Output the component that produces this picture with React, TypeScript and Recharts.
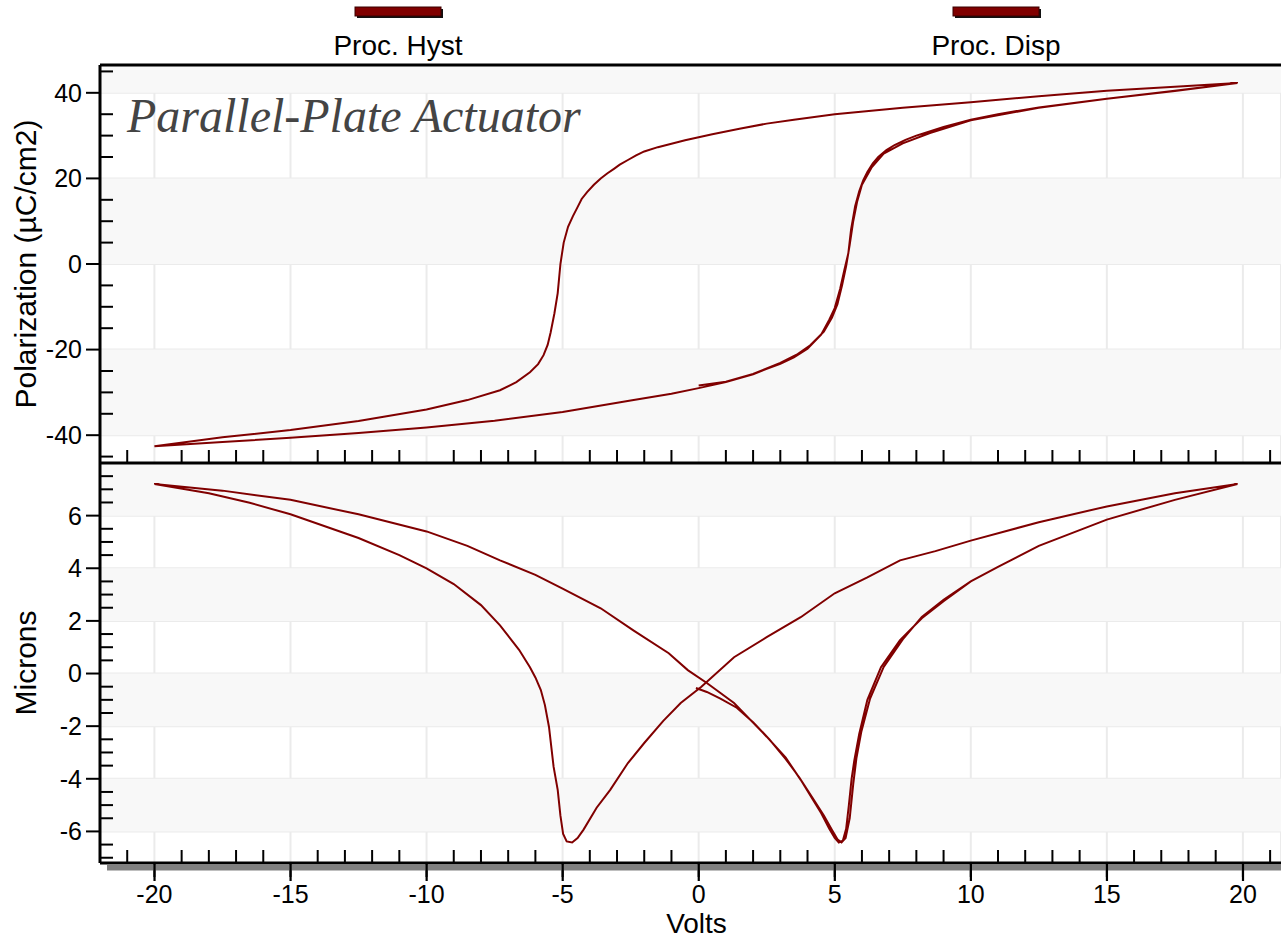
import React from 'react';
import { LineChart, Line, XAxis, YAxis, CartesianGrid, ReferenceArea, Legend } from 'recharts';

const seriesNames = ['Proc. Hyst', 'Proc. Disp'];

const xMajorTicks = [-20, -15, -10, -5, 0, 5, 10, 15, 20];
const xMinorTicks = [-21, -19, -18, -17, -16, -14, -13, -12, -11, -9, -8, -7, -6, -4, -3, -2, -1,
  1, 2, 3, 4, 6, 7, 8, 9, 11, 12, 13, 14, 16, 17, 18, 19, 21];
const polTicks = [-40, -20, 0, 20, 40];
const polMinorTicks = [-45, -35, -30, -25, -15, -10, -5, 5, 10, 15, 25, 30, 35, 45];
const micTicks = [-6, -4, -2, 0, 2, 4, 6];
const micMinorTicks = [-7, -6.5, -5.5, -5, -4.5, -3.5, -3, -2.5, -1.5, -1, -0.5, 0.5, 1, 1.5,
  2.5, 3, 3.5, 4.5, 5, 5.5, 6.5, 7, 7.5];

// shaded bands between gridlines
const polBands = [[40, 46.5], [0, 20], [-40, -20]];
const micBands = [[6, 8], [2, 4], [-2, 0], [-6, -4]];

// hysteresis: first rise from 0 V, fall 20 -> -20, rise -20 -> 20
const hystRiseFirstV = [0.0, 1.0, 2.0, 3.0, 3.6, 4.1, 4.6, 4.9, 5.1, 5.27, 5.42, 5.55, 5.68, 5.82, 6.0, 6.35, 6.8, 7.5, 8.5, 10, 12.5, 15, 17.5, 19.8];
const hystRiseFirstP = [-28.4, -27.5, -25.7, -23.1, -21.2, -19.0, -15.8, -12.5, -9.4, -5.0, -0.5, 4.5, 10.0, 14.5, 18.5, 22.5, 25.8, 28.2, 30.6, 33.6, 36.5, 38.6, 40.4, 42.3];
const hystFallV = [19.8, 17.5, 15, 12.5, 10, 7.5, 5, 3.5, 2.5, 1.5, 0.5, 0, -0.5, -1, -1.5, -2, -2.3, -2.6, -2.9, -3.1, -3.35, -3.6, -3.85, -4.1, -4.3, -4.45, -4.62, -4.8, -4.96, -5.08, -5.18, -5.3, -5.44, -5.55, -5.7, -5.9, -6.2, -6.7, -7.3, -8.5, -10, -12.5, -15, -17.5, -20];
const hystFallP = [42.3, 41.4, 40.5, 39.2, 37.8, 36.5, 35.0, 33.7, 32.8, 31.6, 30.3, 29.6, 28.9, 28.1, 27.3, 26.3, 25.4, 24.3, 23.2, 22.3, 21.2, 20.0, 18.5, 16.8, 15.2, 13.3, 11.2, 8.7, 5.0, 0.0, -6.8, -11.5, -16.0, -18.9, -21.3, -23.4, -25.3, -27.6, -29.5, -31.8, -34.0, -36.7, -38.8, -40.5, -42.6];
const hystRiseV = [-20, -17.5, -15, -12.5, -10, -7.5, -5, -2.5, -1, 0, 1, 2, 2.5, 3, 3.5, 4, 4.5, 4.8, 5.0, 5.2, 5.35, 5.5, 5.6, 5.75, 5.9, 6.05, 6.2, 6.4, 6.6, 6.9, 7.2, 7.6, 8, 9, 10, 11, 12.5, 15, 17.5, 19.8];
const hystRiseP = [-42.6, -41.6, -40.6, -39.5, -38.2, -36.6, -34.6, -31.9, -30.3, -29.0, -27.6, -25.8, -24.5, -23.3, -21.8, -19.8, -16.5, -13.0, -10.3, -5.8, -1.5, 2.5, 8.0, 13.5, 17.0, 19.6, 21.5, 23.5, 25.0, 26.6, 27.8, 29.0, 30.0, 32.0, 33.7, 35.0, 36.6, 38.6, 40.5, 42.3];

// displacement butterfly, same sweep order
const dispRiseFirstV = [-0.1, 0.3, 0.8, 1.4, 2.0, 2.6, 3.2, 3.7, 4.2, 4.6, 4.9, 5.1, 5.25, 5.4, 5.55, 5.68, 5.8, 5.98, 6.3, 6.8, 7.5, 8.2, 9, 10, 11, 12.5, 15, 17.5, 19.8];
const dispRiseFirstD = [-0.55, -0.7, -0.95, -1.3, -1.85, -2.5, -3.25, -3.95, -4.75, -5.4, -5.95, -6.3, -6.42, -6.25, -5.5, -4.2, -3.2, -2.2, -0.95, 0.25, 1.3, 2.15, 2.8, 3.5, 4.05, 4.85, 5.85, 6.6, 7.2];
const dispFallV = [19.8, 17.5, 15, 12.5, 10, 8.7, 7.4, 6.2, 5.0, 3.75, 2.5, 1.3, 0.1, -0.66, -1.3, -2.0, -2.6, -3.25, -3.75, -4.23, -4.45, -4.65, -4.85, -4.98, -5.08, -5.18, -5.33, -5.5, -5.65, -5.8, -6.0, -6.2, -6.6, -7.3, -8, -9, -10, -11, -12.5, -15, -16.5, -18, -20];
const dispFallD = [7.2, 6.85, 6.35, 5.75, 5.05, 4.65, 4.3, 3.65, 3.05, 2.14, 1.38, 0.62, -0.5, -1.12, -1.8, -2.64, -3.4, -4.42, -5.1, -5.93, -6.25, -6.42, -6.38, -6.1, -5.4, -4.42, -3.55, -2.03, -1.2, -0.63, -0.15, 0.24, 0.9, 1.83, 2.6, 3.4, 4.0, 4.5, 5.15, 6.05, 6.49, 6.85, 7.2];
const dispRiseV = [-20, -17.5, -15, -12.5, -10, -8.5, -7.3, -6, -5, -3.6, -2.4, -1.1, -0.4, 0.3, 1.3, 2.5, 3.2, 3.75, 4.2, 4.5, 4.8, 5.0, 5.15, 5.3, 5.42, 5.52, 5.62, 5.72, 5.9, 6.2, 6.7, 7.4, 8.2, 9, 10, 11, 12.5, 15, 17.5, 19.8];
const dispRiseD = [7.2, 6.95, 6.6, 6.05, 5.4, 4.85, 4.3, 3.75, 3.23, 2.48, 1.64, 0.77, 0.13, -0.36, -1.12, -2.4, -3.2, -4.04, -4.8, -5.3, -5.9, -6.25, -6.42, -6.35, -5.9, -5.0, -4.0, -3.3, -2.3, -1.0, 0.24, 1.27, 2.1, 2.75, 3.5, 4.05, 4.85, 5.85, 6.6, 7.2];

const zip = (vs: number[], ys: number[]) => vs.map((v, i) => ({ v, y: ys[i] }));

const hystData = [
  ...zip(hystRiseFirstV, hystRiseFirstP),
  ...zip(hystFallV, hystFallP),
  ...zip(hystRiseV, hystRiseP),
];
const dispData = [
  ...zip(dispRiseFirstV, dispRiseFirstD),
  ...zip(dispFallV, dispFallD),
  ...zip(dispRiseV, dispRiseD),
];

const RED = '#800000';
const SANS = "'Liberation Sans', Arial, sans-serif";
const X_DOMAIN: [number, number] = [-22, 21.4];
const tickStyle = { fontSize: 25, fill: '#000', fontFamily: SANS };
const tickLineStyle = { stroke: '#000', strokeWidth: 2 };
const axisLineStyle = { stroke: '#000', strokeWidth: 3 };
const X_TICK_SIZE = 14;
const X_TICK_MARGIN = 8;

// empty tick label, keeps the tick marks and grid positions
const noLabel = () => <g />;

// bottom axis tick: outward mark and label
const XTick = (props: any) => {
  const { x, y, payload } = props;
  const px = Number(x);
  const py = Number(y);
  const axisY = py - X_TICK_MARGIN - X_TICK_SIZE;
  return (
    <g>
      <rect x={px - 1} y={axisY + 1} width={2.2} height={X_TICK_SIZE + 3} fill="#000" />
      <text x={px} y={py} dy="0.71em" textAnchor="middle" fontSize={25} fontFamily={SANS} fill="#000">
        {payload.value}
      </text>
    </g>
  );
};

const yTitle = (text: string) => (props: any) => {
  const vb = props.viewBox;
  const cy = vb.y + vb.height / 2;
  return (
    <text x={25} y={cy} transform={`rotate(-90 25 ${cy})`} textAnchor="middle"
      dominantBaseline="central" fontSize={30} fontFamily={SANS} fill="#000">
      {text}
    </text>
  );
};

// axis title plus the grey shadow strip under the bottom axis
const xTitle = (props: any) => {
  const vb = props.viewBox;
  return (
    <g>
      <rect x={vb.x + 7} y={vb.y + 1.5} width={vb.width - 7} height={6} fill="#808080" />
      <text x={vb.x + vb.width / 2 + 6} y={vb.y + vb.height - 5} textAnchor="middle" fontSize={28}
        fontFamily={SANS} fill="#000">
        Volts
      </text>
    </g>
  );
};

const legendCenters = [398, 996];

const renderLegend = () => (
  <svg width={1281} height={62}>
    {seriesNames.map((name, i) => (
      <g key={name}>
        <rect x={legendCenters[i] - 41} y={9} width={86} height={9} fill="#111" />
        <rect x={legendCenters[i] - 43} y={7} width={86} height={9} fill={RED} stroke="#3a0000" strokeWidth={1} />
        <text x={legendCenters[i]} y={55} textAnchor="middle" fontSize={28} fontFamily={SANS} fill="#000">
          {name}
        </text>
      </g>
    ))}
  </svg>
);

export default function App() {
  return (
    <div style={{ position: 'absolute', left: 0, top: 0, width: 1281, height: 938, overflow: 'hidden', background: '#fff' }}>
      <div style={{ position: 'absolute', left: 0, top: 0, zIndex: 2 }}>
        <LineChart width={1281} height={470} margin={{ top: 65, right: 0, bottom: 7, left: 0 }}>
          {polBands.map(([a, b]) => (
            <ReferenceArea key={`pb${a}`} y1={a} y2={b} fill="#f8f8f8" fillOpacity={1} stroke="none" ifOverflow="visible" />
          ))}
          <CartesianGrid stroke="#ebebeb" strokeWidth={2} />
          <XAxis type="number" dataKey="v" domain={X_DOMAIN} ticks={xMajorTicks} allowDataOverflow
            tick={noLabel} tickLine={false} axisLine={false} height={0} />
          <XAxis xAxisId="minor" type="number" dataKey="v" domain={X_DOMAIN} ticks={xMinorTicks} allowDataOverflow
            interval={0} mirror tick={noLabel} tickSize={13} tickLine={tickLineStyle} axisLine={axisLineStyle} />
          <XAxis xAxisId="top" orientation="top" type="number" dataKey="v" domain={X_DOMAIN} allowDataOverflow
            mirror tick={noLabel} tickLine={false} axisLine={axisLineStyle} />
          <YAxis type="number" domain={[-46.5, 46.5]} ticks={polTicks} allowDataOverflow width={100}
            interval={0} tickSize={14} tickMargin={4} tick={tickStyle} tickLine={tickLineStyle} axisLine={axisLineStyle}
            label={yTitle('Polarization (µC/cm2)')} />
          <YAxis yAxisId="minor" type="number" domain={[-46.5, 46.5]} ticks={polMinorTicks} allowDataOverflow
            interval={0} mirror tick={noLabel} tickSize={13} tickLine={tickLineStyle} axisLine={false} />
          <Line data={hystData} dataKey="y" name={seriesNames[0]} type="linear" stroke={RED}
            strokeWidth={2} dot={false} isAnimationActive={false} />
          <Legend layout="horizontal" verticalAlign="middle" align="center" content={renderLegend}
            wrapperStyle={{ top: 0, left: 0, width: 1281, height: 62 }} />
        </LineChart>
      </div>
      <svg style={{ position: 'absolute', left: 0, top: 0, zIndex: 3, pointerEvents: 'none' }} width={700} height={160}>
        <text x={127} y={132} fontSize={48} fontStyle="italic" fontFamily="'Liberation Serif', 'Times New Roman', serif" fill="#444">
          Parallel-Plate Actuator
        </text>
      </svg>
      <div style={{ position: 'absolute', left: 0, top: 458, zIndex: 1 }}>
        <LineChart width={1281} height={480} margin={{ top: 5, right: 0, bottom: 0, left: 0 }}>
          {micBands.map(([a, b]) => (
            <ReferenceArea key={`mb${a}`} y1={a} y2={b} fill="#f8f8f8" fillOpacity={1} stroke="none" ifOverflow="visible" />
          ))}
          <CartesianGrid stroke="#ebebeb" strokeWidth={2} />
          <XAxis type="number" dataKey="v" domain={X_DOMAIN} ticks={xMajorTicks} allowDataOverflow height={75}
            interval={0} tickSize={X_TICK_SIZE} tickMargin={X_TICK_MARGIN} tick={<XTick />} tickLine={tickLineStyle}
            axisLine={axisLineStyle} label={xTitle} />
          <XAxis xAxisId="minor" type="number" dataKey="v" domain={X_DOMAIN} ticks={xMinorTicks} allowDataOverflow
            interval={0} mirror tick={noLabel} tickSize={13} tickLine={tickLineStyle} axisLine={false} />
          <YAxis type="number" domain={[-7.2, 8]} ticks={micTicks} allowDataOverflow width={100}
            interval={0} tickSize={14} tickMargin={4} tick={tickStyle} tickLine={tickLineStyle} axisLine={axisLineStyle}
            label={yTitle('Microns')} />
          <YAxis yAxisId="minor" type="number" domain={[-7.2, 8]} ticks={micMinorTicks} allowDataOverflow
            interval={0} mirror tick={noLabel} tickSize={13} tickLine={tickLineStyle} axisLine={false} />
          <Line data={dispData} dataKey="y" name={seriesNames[1]} type="linear" stroke={RED}
            strokeWidth={2} dot={false} isAnimationActive={false} />
        </LineChart>
      </div>
    </div>
  );
}
